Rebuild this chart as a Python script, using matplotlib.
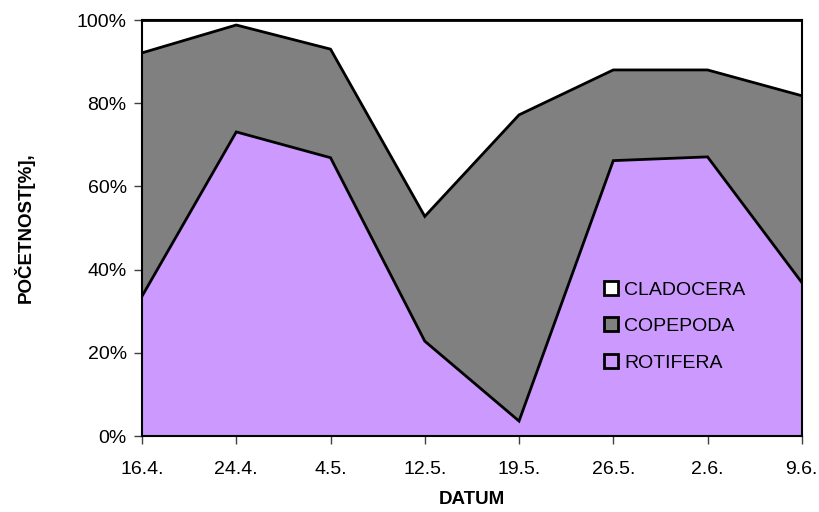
import matplotlib
matplotlib.use("Agg")
import matplotlib.pyplot as plt
from matplotlib.patches import Patch
import numpy as np

plt.rcParams['font.family'] = ['Liberation Sans', 'DejaVu Sans']

dates = ["16.4.", "24.4.", "4.5.", "12.5.", "19.5.", "26.5.", "2.6.", "9.6."]
rotifera = [33.6, 73.1, 66.9, 22.8, 3.6, 66.2, 67.1, 36.9]
copepoda = [58.5, 25.7, 26.1, 30.0, 73.6, 21.8, 20.9, 44.9]
cladocera = [100 - r - c for r, c in zip(rotifera, copepoda)]

col_rot = "#CC99FF"
col_cop = "#808080"
col_cla = "#FFFFFF"

x = np.arange(len(dates))
r = np.array(rotifera)
rc = r + np.array(copepoda)
tot = rc + np.array(cladocera)

fig = plt.figure(figsize=(8.19, 5.12), dpi=100)
ax = fig.add_axes([0.1734, 0.1484, 0.8056, 0.8125])

ax.fill_between(x, 0, r, color=col_rot, lw=0)
ax.fill_between(x, r, rc, color=col_cop, lw=0)
ax.fill_between(x, rc, tot, color=col_cla, lw=0)
ax.plot(x, r, color="black", lw=2, solid_joinstyle="miter", zorder=3)
ax.plot(x, rc, color="black", lw=2, solid_joinstyle="miter", zorder=3)
ax.plot(x, tot, color="black", lw=2, zorder=3)

ax.set_xlim(0, len(dates) - 1)
ax.set_ylim(0, 100)
ax.set_xticks(x)
ax.set_xticklabels(dates)
ax.set_yticks(np.arange(0, 101, 20))
ax.set_yticklabels([f"{v}%" for v in range(0, 101, 20)])
ax.tick_params(axis="both", labelsize=14, length=6, width=1, color="#404040", direction="out")
ax.tick_params(axis="x", pad=12)
ax.tick_params(axis="y", pad=5)
for s in ax.spines.values():
    s.set_linewidth(1.5)
    s.set_color("black")

ax.set_xlabel("DATUM", fontsize=13.5, fontweight="bold", labelpad=9)
ax.set_ylabel("POČETNOST[%],", fontsize=13.5, fontweight="bold", labelpad=30)

handles = [Patch(facecolor=col_cla, edgecolor="black", lw=2),
           Patch(facecolor=col_cop, edgecolor="black", lw=2),
           Patch(facecolor=col_rot, edgecolor="black", lw=2)]
ax.legend(handles, ["CLADOCERA", "COPEPODA", "ROTIFERA"], loc="upper left",
          bbox_to_anchor=(0.673, 0.415), frameon=False, fontsize=14,
          handlelength=0.75, handleheight=0.75, handletextpad=0.3, labelspacing=0.95)

fig.savefig("out.png", dpi=100)
